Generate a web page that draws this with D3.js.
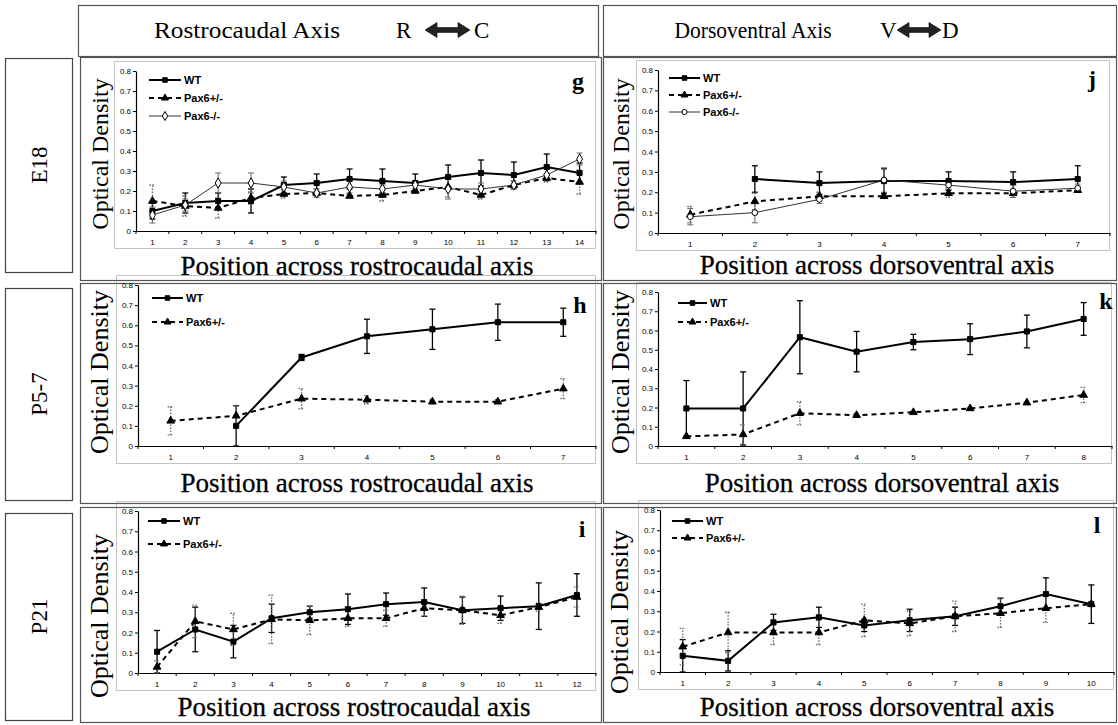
<!DOCTYPE html>
<html><head><meta charset="utf-8">
<script src="https://cdn.jsdelivr.net/npm/d3@7"></script>
<style>body{margin:0;background:#fff}</style>
</head><body><svg id="c" width="1118" height="725"></svg>
<script>
// ---------- data ----------
const yTicks = [0, 0.1, 0.2, 0.3, 0.4, 0.5, 0.6, 0.7, 0.8];
const yTickLabels = ["0", "0.1", "0.2", "0.3", "0.4", "0.5", "0.6", "0.7", "0.8"];
const seriesNames = ["WT", "Pax6+/-", "Pax6-/-"];
const rowLabels = ["E18", "P5-7", "P21"];
const headerTitles = ["Rostrocaudal Axis", "Dorsoventral Axis"];
const headerEnds = [["R", "C"], ["V", "D"]];
const xTitles = ["Position across rostrocaudal axis", "Position across dorsoventral axis"];
const yTitle = "Optical Density";
const panelLetters = ["g", "j", "h", "k", "i", "l"];

// E18 rostrocaudal (g)
const gPos = [1,2,3,4,5,6,7,8,9,10,11,12,13,14];
const gWT = [0.10,0.14,0.15,0.15,0.23,0.24,0.26,0.25,0.24,0.27,0.29,0.28,0.32,0.29];
const gWTErr = [0.04,0.05,0.04,0.06,0.04,0.045,0.05,0.06,0.045,0.06,0.065,0.065,0.065,0.05];
const gHet = [0.15,0.125,0.115,0.165,0.185,0.19,0.175,0.18,0.20,0.22,0.18,0.23,0.265,0.245];
const gHetErr = [0.08,0.05,0.05,0.03,0.02,0.02,0.01,0.03,0.01,0.05,0.02,0.02,0.02,0.06];
const gHom = [0.08,0.13,0.24,0.24,0.22,0.19,0.22,0.21,0.23,0.21,0.21,0.23,0.28,0.36];
const gHomErr = [0.04,0.03,0.05,0.05,0.03,0.02,0.03,0.02,0.02,0.05,0.03,0.02,0.03,0.03];

// E18 dorsoventral (j)
const jPos = [1,2,3,4,5,6,7];
const jWT = [null,0.265,0.245,0.255,0.255,0.25,0.265];
const jWTErr = [null,0.065,0.055,0.06,0.045,0.05,0.065];
const jHet = [0.09,0.155,0.18,0.18,0.195,0.195,0.21];
const jHetErr = [0.04,0.04,0.02,0.01,0.02,0.02,0.01];
const jHom = [0.08,0.10,0.165,0.26,0.235,0.205,0.22];
const jHomErr = [0.04,0.05,0.02,0.06,0.02,0.03,0.02];

// P5-7 rostrocaudal (h)
const hPos = [1,2,3,4,5,6,7];
const hWT = [null,0.10,0.44,0.545,0.58,0.615,0.615];
const hWTErr = [null,0.10,0.015,0.085,0.10,0.09,0.07];
const hHet = [0.125,0.15,0.235,0.23,0.22,0.22,0.285];
const hHetErr = [0.07,0.05,0.05,0.02,0.01,0.01,0.05];

// P5-7 dorsoventral (k)
const kPos = [1,2,3,4,5,6,7,8];
const kWT = [0.195,0.195,0.565,0.49,0.54,0.555,0.595,0.66];
const kWTErr = [0.145,0.19,0.19,0.105,0.04,0.08,0.085,0.085];
const kHet = [0.05,0.06,0.17,0.16,0.175,0.195,0.225,0.265];
const kHetErr = [0.005,0.05,0.06,0.01,0.005,0.005,0.005,0.04];

// P21 rostrocaudal (i)
const iPos = [1,2,3,4,5,6,7,8,9,10,11,12];
const iWT = [0.105,0.215,0.155,0.27,0.30,0.315,0.34,0.35,0.31,0.32,0.33,0.385];
const iWTErr = [0.105,0.11,0.08,0.07,0.03,0.075,0.055,0.07,0.065,0.06,0.115,0.105];
const iHet = [0.03,0.255,0.215,0.265,0.26,0.27,0.27,0.32,0.31,0.285,0.325,0.375];
const iHetErr = [0.03,0.08,0.08,0.12,0.07,0.04,0.04,0.04,0.07,0.04,0.02,0.05];

// P21 dorsoventral (l)
const lPos = [1,2,3,4,5,6,7,8,9,10];
const lWT = [0.08,0.055,0.245,0.27,0.23,0.255,0.275,0.325,0.385,0.335];
const lWTErr = [0.08,0.05,0.04,0.05,0.03,0.055,0.045,0.04,0.08,0.095];
const lHet = [0.125,0.195,0.195,0.195,0.255,0.24,0.275,0.29,0.315,0.335];
const lHetErr = [0.09,0.10,0.06,0.06,0.08,0.06,0.075,0.07,0.07,0.01];

// ---------- styles ----------
const SERIF = "'Liberation Serif','Times New Roman',serif";
const SANS = "'Liberation Sans',Arial,sans-serif";
const styles = {
  WT:  {stroke:"#000", width:2, dash:null, sym:d3.symbolSquare, size:26, fill:"#000", errStroke:"#000", errDash:null, errW:1.3},
  Het: {stroke:"#000", width:2, dash:"5,4", sym:d3.symbolTriangle, size:26, fill:"#000", errStroke:"#666", errDash:"1.5,1.5", errW:1.3},
  HomD:{stroke:"#333", width:1, dash:null, sym:d3.symbolDiamond, size:30, fill:"#fff", errStroke:"#666", errDash:null, errW:1},
  HomC:{stroke:"#333", width:1, dash:null, sym:d3.symbolCircle, size:26, fill:"#fff", errStroke:"#666", errDash:null, errW:1}
};

const svg = d3.select("#c");
svg.append("rect").attr("width",1118).attr("height",725).attr("fill","#fff");

// ---------- column headers ----------
const headerLayout = [
  {box:[78,5,520,51], tx:247, tw:186, ex1:396, ax1:425, ax2:470, ex2:474},
  {box:[603,5,513,51], tx:753, tw:157, ex1:880, ax1:897, ax2:941, ex2:942}
];
headerLayout.forEach((h,i)=>{
  svg.append("rect").attr("x",h.box[0]+0.5).attr("y",h.box[1]+0.5).attr("width",h.box[2]).attr("height",h.box[3])
    .attr("fill","none").attr("stroke","#555").attr("stroke-width",1.2);
  svg.append("text").attr("x",h.tx - h.tw/2).attr("y",38)
    .attr("font-family",SERIF).attr("font-size",23).attr("textLength",h.tw).attr("lengthAdjust","spacingAndGlyphs")
    .text(headerTitles[i]);
  svg.append("text").attr("x",h.ex1).attr("y",38).attr("font-family",SERIF).attr("font-size",23).text(headerEnds[i][0]);
  svg.append("text").attr("x",h.ex2).attr("y",38).attr("font-family",SERIF).attr("font-size",23).text(headerEnds[i][1]);
  const cy = 30, hh = 7.5, sh = 2.4, hw = 12;
  const a1 = h.ax1, a2 = h.ax2;
  svg.append("path").attr("d",
    `M${a1},${cy} L${a1+hw},${cy-hh} L${a1+hw},${cy-sh} L${a2-hw},${cy-sh} L${a2-hw},${cy-hh} L${a2},${cy} L${a2-hw},${cy+hh} L${a2-hw},${cy+sh} L${a1+hw},${cy+sh} L${a1+hw},${cy+hh} Z`)
    .attr("fill","#222").attr("stroke","#000").attr("stroke-width",0.6);
});

// ---------- row labels ----------
const rowLayout = [[5,58,67,214],[5,288,67,212],[5,513,67,207]];
rowLayout.forEach((r,i)=>{
  svg.append("rect").attr("x",r[0]+0.5).attr("y",r[1]+0.5).attr("width",r[2]).attr("height",r[3])
    .attr("fill","none").attr("stroke","#444").attr("stroke-width",1.2);
  const cx = r[0]+r[2]/2, cy = r[1]+r[3]/2;
  svg.append("text").attr("transform",`translate(${cx+8},${cy}) rotate(-90)`).attr("text-anchor","middle")
    .attr("font-family",SERIF).attr("font-size",23).text(rowLabels[i]);
});

// ---------- panels ----------
const panels = [
  {box:[80,57,521,223], left:136, right:596, top:71, zero:231, pos:gPos,
   series:[[seriesNames[0],gWT,gWTErr,"WT"],[seriesNames[1],gHet,gHetErr,"Het"],[seriesNames[2],gHom,gHomErr,"HomD"]],
   letter:panelLetters[0], lx:578, ly:89, xt:xTitles[0], xtx:357, xty:275, ytx:108, yty:154, yfs:24,
   leg:{x1:149, x2:181, ys:[80,98,116]}},
  {box:[603,57,513,223], left:658, right:1110, top:70, zero:233, pos:jPos,
   series:[[seriesNames[0],jWT,jWTErr,"WT"],[seriesNames[1],jHet,jHetErr,"Het"],[seriesNames[2],jHom,jHomErr,"HomC"]],
   letter:panelLetters[1], lx:1092, ly:87, xt:xTitles[1], xtx:877, xty:274, ytx:629, yty:154, yfs:24,
   leg:{x1:669, x2:700, ys:[78,95,112]}},
  {box:[80,283,521,220], left:138, right:596, top:285, zero:446, pos:hPos,
   series:[[seriesNames[0],hWT,hWTErr,"WT"],[seriesNames[1],hHet,hHetErr,"Het"]],
   letter:panelLetters[2], lx:580, ly:313, xt:xTitles[0], xtx:357, xty:492, ytx:108, yty:372, yfs:26,
   leg:{x1:152, x2:183, ys:[298,322]}},
  {box:[603,283,513,220], left:658, right:1112, top:292, zero:446, pos:kPos,
   series:[[seriesNames[0],kWT,kWTErr,"WT"],[seriesNames[1],kHet,kHetErr,"Het"]],
   letter:panelLetters[3], lx:1106, ly:309, xt:xTitles[1], xtx:882, xty:492, ytx:629, yty:372, yfs:26,
   leg:{x1:678, x2:707, ys:[303,322]}},
  {box:[80,507,521,215], left:138, right:596, top:511, zero:673, pos:iPos,
   series:[[seriesNames[0],iWT,iWTErr,"WT"],[seriesNames[1],iHet,iHetErr,"Het"]],
   letter:panelLetters[4], lx:582, ly:537, xt:xTitles[0], xtx:354, xty:716, ytx:108, yty:616, yfs:26,
   leg:{x1:148, x2:180, ys:[521,544]}},
  {box:[603,507,513,215], left:660, right:1114, top:510, zero:672, pos:lPos,
   series:[[seriesNames[0],lWT,lWTErr,"WT"],[seriesNames[1],lHet,lHetErr,"Het"]],
   letter:panelLetters[5], lx:1097, ly:533, xt:xTitles[1], xtx:877, xty:716, ytx:628, yty:612, yfs:26,
   leg:{x1:672, x2:703, ys:[521,538]}}
];

function drawPanel(p){
  const g = svg.append("g");
  g.append("rect").attr("x",p.box[0]+0.5).attr("y",p.box[1]+0.5).attr("width",p.box[2]).attr("height",p.box[3])
    .attr("fill","none").attr("stroke","#555").attr("stroke-width",1.2);
  // inner chart-area frame (dotted)
  g.append("rect").attr("x",p.left-21.5).attr("y",p.top-9.5).attr("width",p.right-p.left+21).attr("height",p.zero-p.top+27)
    .attr("fill","none").attr("stroke","#888").attr("stroke-width",1).attr("stroke-dasharray","1,1");

  const x = d3.scaleBand().domain(p.pos).range([p.left,p.right]).padding(0);
  const cx = d => x(d) + x.bandwidth()/2;
  const y = d3.scaleLinear().domain([0,0.8]).range([p.zero,p.top]);

  const ya = g.append("g").attr("transform",`translate(${p.left},0)`)
    .call(d3.axisLeft(y).tickValues(yTicks).tickFormat((d,i)=>yTickLabels[i]).tickSizeInner(3).tickSizeOuter(0).tickPadding(2));
  const xa = g.append("g").attr("transform",`translate(0,${p.zero})`)
    .call(d3.axisBottom(x).tickSizeInner(0).tickSizeOuter(0).tickPadding(8));
  [ya,xa].forEach(a=>{
    a.selectAll("path.domain").attr("stroke","#000").attr("stroke-width",1.2);
    a.selectAll("line").attr("stroke","#000");
    a.selectAll("text").attr("font-family",SANS).attr("font-size",8).attr("fill","#000");
  });
  // category boundary ticks
  const bounds = p.pos.map(d=>x(d)).concat([p.right]);
  xa.selectAll("line.bt").data(bounds).enter().append("line").attr("class","bt")
    .attr("x1",d=>d).attr("x2",d=>d).attr("y1",0).attr("y2",3).attr("stroke","#000");

  // series
  const layers = {err:g.append("g"), line:g.append("g"), mark:g.append("g")};
  p.series.forEach(([name, vals, errs, key])=>{
    const st = styles[key];
    const pts = p.pos.map((d,i)=>({x:cx(d), v:vals[i], e:errs[i]}));
    pts.filter(q=>q.v!=null).forEach(q=>{
      const lo = y(Math.max(0,q.v-q.e)), hi = y(q.v+q.e);
      const eg = layers.err.append("g").attr("stroke",st.errStroke).attr("stroke-width",st.errW)
        .attr("stroke-dasharray",st.errDash);
      eg.append("line").attr("x1",q.x).attr("x2",q.x).attr("y1",lo).attr("y2",hi);
      eg.append("line").attr("x1",q.x-3).attr("x2",q.x+3).attr("y1",lo).attr("y2",lo);
      eg.append("line").attr("x1",q.x-3).attr("x2",q.x+3).attr("y1",hi).attr("y2",hi);
    });
    const line = d3.line().defined(q=>q.v!=null).x(q=>q.x).y(q=>y(q.v));
    layers.line.append("path").attr("d",line(pts)).attr("fill","none").attr("stroke",st.stroke)
      .attr("stroke-width",st.width).attr("stroke-dasharray",st.dash);
    layers.mark.selectAll(null).data(pts.filter(q=>q.v!=null)).enter().append("path")
      .attr("transform",q=>`translate(${q.x},${y(q.v)})`)
      .attr("d",d3.symbol().type(st.sym).size(st.size))
      .attr("fill",st.fill).attr("stroke","#000").attr("stroke-width",1);
  });

  // legend
  p.series.forEach(([name,,,key],i)=>{
    const st = styles[key], ly = p.leg.ys[i];
    g.append("line").attr("x1",p.leg.x1).attr("x2",p.leg.x2).attr("y1",ly).attr("y2",ly)
      .attr("stroke",st.stroke).attr("stroke-width",st.width).attr("stroke-dasharray",st.dash);
    g.append("path").attr("transform",`translate(${(p.leg.x1+p.leg.x2)/2},${ly})`)
      .attr("d",d3.symbol().type(st.sym).size(st.size*0.8)).attr("fill",st.fill).attr("stroke","#000").attr("stroke-width",1);
    g.append("text").attr("x",p.leg.x2+3).attr("y",ly+4).attr("font-family",SANS).attr("font-weight","bold")
      .attr("font-size",11).text(name);
  });

  // letter
  g.append("text").attr("x",p.lx).attr("y",p.ly).attr("text-anchor","middle").attr("font-family",SERIF)
    .attr("font-weight","bold").attr("font-size",24).text(p.letter);
  // axis titles
  g.append("text").attr("x",p.xtx).attr("y",p.xty).attr("text-anchor","middle").attr("font-family",SERIF)
    .attr("font-size",27).attr("stroke","#000").attr("stroke-width",0.3).text(p.xt);
  g.append("text").attr("transform",`translate(${p.ytx},${p.yty}) rotate(-90)`).attr("text-anchor","middle")
    .attr("font-family",SERIF).attr("font-size",p.yfs).text(yTitle);
}
panels.forEach(drawPanel);
</script></body></html>
